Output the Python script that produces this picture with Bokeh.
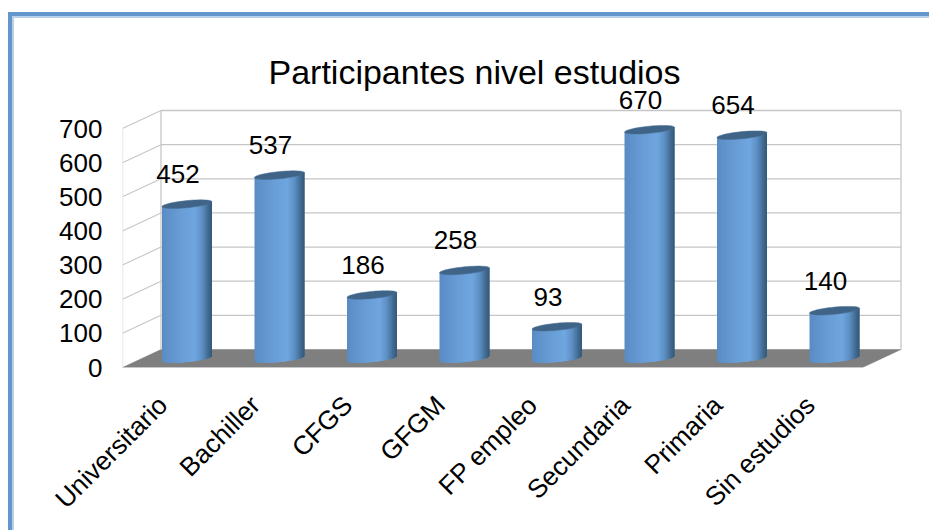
import math
from bokeh.plotting import figure
from bokeh.embed import file_html
from bokeh.resources import INLINE
from bokeh.models import FixedTicker, LinearAxis, Range1d, ColumnDataSource
from bokeh.core.properties import value

categories = ["Universitario", "Bachiller", "CFGS", "GFGM", "FP empleo", "Secundaria", "Primaria", "Sin estudios"]
values = [452, 537, 186, 258, 93, 670, 654, 140]
y_ticks = [0, 100, 200, 300, 400, 500, 600, 700]
title_text = "Participantes nivel estudios"

W, H = 929, 530
PX_X = 92.5            # pixels per category
PX_Y = 239 / 700       # pixels per unit of value
FONT = "Liberation Sans"

fl, fr, ft, fb = 122, 905, 90, 367     # frame, in canvas pixels
dx = lambda px: px / PX_X
dy = lambda px: px / PX_Y

p = figure(width=W, height=H, output_backend="svg", toolbar_location=None,
           x_range=Range1d(-0.5, -0.5 + dx(fr - fl)), y_range=Range1d(0, dy(fb - ft)),
           x_axis_location=None, y_axis_location=None,
           min_border_left=fl, min_border_right=W - fr, min_border_top=ft, min_border_bottom=H - fb,
           background_fill_color="white", border_fill_color=None)
p.outline_line_color = None
p.grid.visible = False

# page border, drawn behind the transparent canvas margin
b1, b2 = "#6496cb", "#b8d0ea"
p.styles = {
    "background-color": "white",
    "background-repeat": "no-repeat",
    "background-image": f"linear-gradient({b1},{b1}),linear-gradient({b1},{b1}),linear-gradient({b2},{b2}),linear-gradient({b2},{b2})",
    "background-size": "100% 4px, 4px 100%, 100% 2px, 2px 100%",
    "background-position": "8px 12px, 8px 12px, 12px 16px, 12px 16px",
}

depth_x, depth_y = dx(38.5), dy(18)
x0, x1 = -0.5, 7.5

# floor
p.patch([x0, x1, x1 + depth_x, x0 + depth_x], [0, 0, depth_y, depth_y], fill_color="#7f7f7f", line_color="#7f7f7f", line_width=0.5)

# walls
GRID = "#c6c6c6"
top = y_ticks[-1]
p.segment([x0 + depth_x] * (len(y_ticks) - 1), [t + depth_y for t in y_ticks[1:]],
          [x1 + depth_x] * (len(y_ticks) - 1), [t + depth_y for t in y_ticks[1:]], line_color=GRID, line_width=1.3)
p.segment([x0] * (len(y_ticks) - 1), y_ticks[1:],
          [x0 + depth_x] * (len(y_ticks) - 1), [t + depth_y for t in y_ticks[1:]], line_color=GRID, line_width=1.1)
p.segment([x0, x0 + depth_x, x1 + depth_x], [0, depth_y, depth_y],
          [x0, x0 + depth_x, x1 + depth_x], [top, top + depth_y, top + depth_y],
          line_color=["#dddddd", GRID, GRID], line_width=1.3)

# cylinders
stops = [(-1.0, (90, 140, 196)), (-0.3, (104, 156, 213)), (0.3, (112, 166, 223)),
         (0.6, (93, 143, 197)), (0.85, (65, 105, 143)), (1.0, (50, 87, 122))]

def shade(u):
    for (a, ca), (b, cb) in zip(stops, stops[1:]):
        if u <= b:
            t = (u - a) / (b - a)
            return "#%02x%02x%02x" % tuple(round(m + (n - m) * t) for m, n in zip(ca, cb))
    return "#32577a"

rx, ry, tilt = dx(25), dy(3.6), dy(2.4)
N = 30
base = depth_y / 2
centre = depth_x / 2 - dx(1)
sl_x, sl_y, sl_c = [], [], []
top_x, top_y = [], []
for i, v in enumerate(values):
    cx = i + centre
    tv = v + base
    for k in range(N):
        u0 = -1 + 2 * k / N
        u1 = min(1.0, -1 + 2 * (k + 2) / N)     # overlap the next slice: no seams
        us = [u0 + (u1 - u0) * j / 4 for j in range(5)]
        xs = [cx + rx * u for u in us]
        sl_x.append(xs + xs[::-1])
        tops = [tv + tilt * u for u in us]
        bots = [base + tilt * u - ry * math.sqrt(max(0, 1 - u * u)) for u in us]
        sl_y.append(tops + bots[::-1])
        sl_c.append(shade(-1 + (2 * k + 1) / N))
    ts = [2 * math.pi * j / 48 for j in range(48)]
    top_x.append([cx + rx * math.cos(a) for a in ts])
    top_y.append([tv + tilt * math.cos(a) + ry * math.sin(a) for a in ts])

p.patches(sl_x, sl_y, fill_color=sl_c, line_color=None)
p.patches(top_x, top_y, fill_color="#3f6487", line_color="#4a7096", line_width=0.5)

# data labels
src = ColumnDataSource(dict(x=[i + centre for i in range(8)], y=[v + base for v in values], t=[str(v) for v in values]))
p.text("x", "y", text="t", source=src, x_offset=-9, y_offset=-30, text_align="center", text_baseline="middle",
       text_font=value(FONT), text_font_size="26px", text_color="black")

# axes
ax_y = LinearAxis(ticker=FixedTicker(ticks=y_ticks))
ax_y.axis_line_color = None
ax_y.major_tick_line_color = None
ax_y.minor_tick_line_color = None
ax_y.major_label_standoff = 14
ax_y.major_label_text_font = FONT
ax_y.major_label_text_font_size = "26px"
ax_y.major_label_text_color = "black"
p.add_layout(ax_y, "left")

x_ticks = [round(i - 0.065, 3) for i in range(8)]
ax_x = LinearAxis(ticker=FixedTicker(ticks=x_ticks),
                  major_label_overrides=dict(zip(x_ticks, categories)))
ax_x.axis_line_color = None
ax_x.major_tick_line_color = None
ax_x.minor_tick_line_color = None
ax_x.major_label_orientation = math.pi / 4
ax_x.major_label_standoff = 27
ax_x.major_label_text_font = FONT
ax_x.major_label_text_font_size = "26.2px"
ax_x.major_label_text_color = "black"
p.add_layout(ax_x, "below")

# title
p.title.text = title_text
p.title.align = "left"
p.title.offset = 268 - fl
p.title.text_font = FONT
p.title.text_font_style = "normal"
p.title.text_font_size = "34px"
p.title.text_color = "black"
p.title.standoff = 0

open("out.html", "w").write(file_html(p, INLINE))
